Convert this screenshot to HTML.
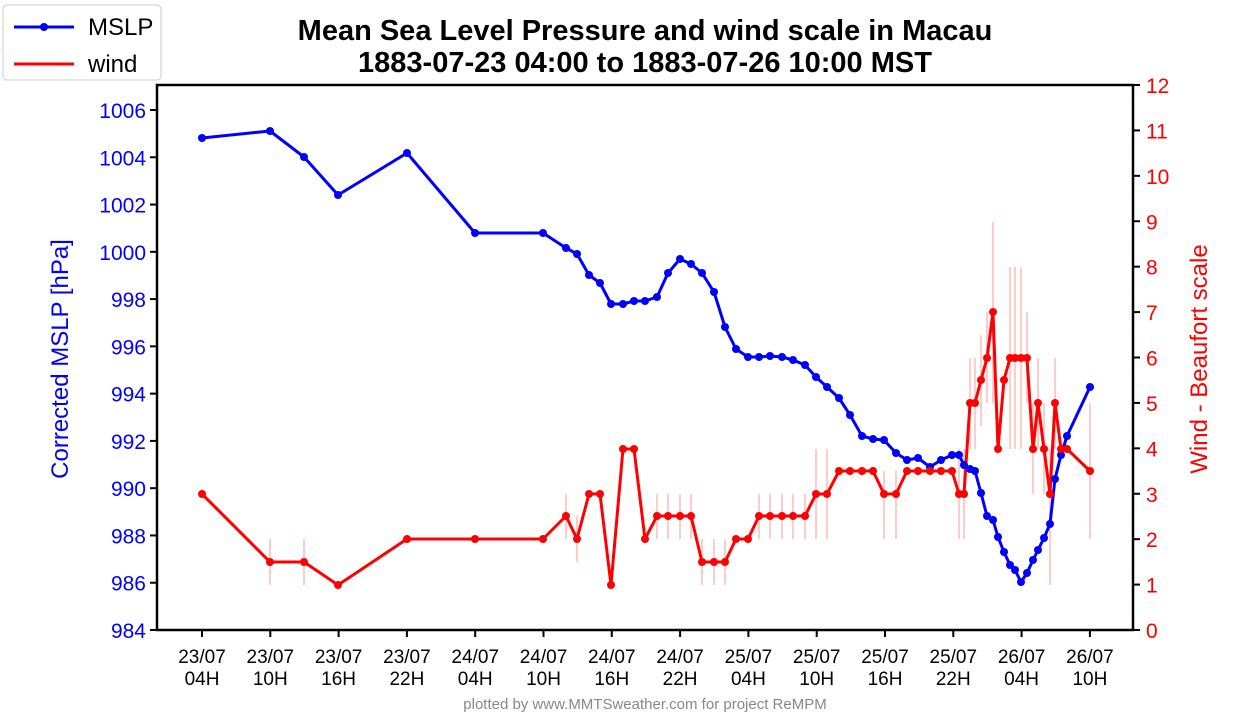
<!DOCTYPE html>
<html><head><meta charset="utf-8"><style>body{margin:0;background:#fff}svg{display:block}text{font-family:"Liberation Sans",sans-serif}</style></head><body>
<svg width="1260" height="720" viewBox="0 0 1260 720">
<g stroke="#ffcccc" stroke-width="2" id="eb">
<line x1="270" y1="539" x2="270" y2="585"/><line x1="304" y1="539" x2="304" y2="585"/>
<line x1="566" y1="494" x2="566" y2="539"/><line x1="577" y1="516" x2="577" y2="562"/>
<line x1="657" y1="494" x2="657" y2="539"/><line x1="668" y1="494" x2="668" y2="539"/><line x1="680" y1="494" x2="680" y2="539"/><line x1="691" y1="494" x2="691" y2="539"/>
<line x1="702" y1="539" x2="702" y2="585"/><line x1="714" y1="539" x2="714" y2="585"/><line x1="725" y1="539" x2="725" y2="585"/>
<line x1="759" y1="494" x2="759" y2="539"/><line x1="770" y1="494" x2="770" y2="539"/><line x1="782" y1="494" x2="782" y2="539"/><line x1="793" y1="494" x2="793" y2="539"/><line x1="805" y1="494" x2="805" y2="539"/>
<line x1="816" y1="449" x2="816" y2="539"/><line x1="827" y1="449" x2="827" y2="539"/>
<line x1="884" y1="471" x2="884" y2="539"/><line x1="896" y1="471" x2="896" y2="539"/>
<line x1="959" y1="449" x2="959" y2="539"/><line x1="964" y1="449" x2="964" y2="539"/>
<line x1="970" y1="358" x2="970" y2="449"/><line x1="975" y1="358" x2="975" y2="449"/><line x1="981" y1="335" x2="981" y2="426"/><line x1="987" y1="312" x2="987" y2="403"/><line x1="993" y1="222" x2="993" y2="403"/>
<line x1="1010" y1="267" x2="1010" y2="449"/><line x1="1015" y1="267" x2="1015" y2="449"/><line x1="1021" y1="267" x2="1021" y2="449"/><line x1="1027" y1="312" x2="1027" y2="403"/>
<line x1="1033" y1="403" x2="1033" y2="494"/><line x1="1038" y1="358" x2="1038" y2="449"/><line x1="1044" y1="403" x2="1044" y2="494"/><line x1="1050" y1="449" x2="1050" y2="585"/><line x1="1055" y1="358" x2="1055" y2="449"/>
<line x1="1090" y1="403" x2="1090" y2="539"/>
</g>
<g fill="none" stroke-width="3" stroke-linejoin="round">
<polyline id="mslp" stroke="#0000ff" points="202,138 270,131 304,157 338,195 407,153 475,233 543,233 566,248 577,254 589,275 600,283 611,304 623,304 634,301 645,301 657,297 668,273 680,259 691,264 702,273 714,292 725,327 736,349 748,357 759,357 770,356 782,357 793,360 805,365 816,377 827,387 839,398 850,415 862,436 873,439 884,440 896,453 907,460 918,458 930,467 941,460 952,455 959,455 964,465 970,469 975,471 981,493 987,516 993,520 998,537 1004,552 1010,565 1015,570 1021,582 1027,573 1033,560 1038,550 1044,538 1050,524 1055,479 1061,455 1067,436 1090,387"/>
<polyline id="wind" stroke="#ff0000" points="202,494 270,562 304,562 338,585 407,539 475,539 543,539 566,516 577,539 589,494 600,494 611,585 623,449 634,449 645,539 657,516 668,516 680,516 691,516 702,562 714,562 725,562 736,539 748,539 759,516 770,516 782,516 793,516 805,516 816,494 827,494 839,471 850,471 862,471 873,471 884,494 896,494 907,471 918,471 930,471 941,471 952,471 959,494 964,494 970,403 975,403 981,380 987,358 993,312 998,449 1004,380 1010,358 1015,358 1021,358 1027,358 1033,449 1038,403 1044,449 1050,494 1055,403 1061,449 1067,449 1090,471"/>
</g>
<g id="dots"></g>
<rect x="157" y="85" width="976" height="545" fill="none" stroke="#000" stroke-width="2.5"/>
<g id="ax" font-size="21"></g>
<text x="645" y="40" text-anchor="middle" font-size="29" font-weight="bold">Mean Sea Level Pressure and wind scale in Macau</text>
<text x="645" y="72" text-anchor="middle" font-size="29" font-weight="bold">1883-07-23 04:00 to 1883-07-26 10:00 MST</text>
<text transform="translate(68,359) rotate(-90)" text-anchor="middle" font-size="24" fill="#0000ff">Corrected MSLP [hPa]</text>
<text transform="translate(1207,359) rotate(-90)" text-anchor="middle" font-size="24" fill="#ff0000">Wind - Beaufort scale</text>
<text x="645" y="709" text-anchor="middle" font-size="15" fill="#888">plotted by www.MMTSweather.com for project ReMPM</text>
<rect x="3" y="5" width="158" height="75" rx="4" fill="#fff" stroke="#ccc"/>
<line x1="14" y1="27" x2="74" y2="27" stroke="#0000ff" stroke-width="3"/><circle cx="44" cy="27" r="4" fill="#0000ff"/>
<text x="88" y="35" font-size="24">MSLP</text>
<line x1="14" y1="64" x2="74" y2="64" stroke="#ff0000" stroke-width="3"/>
<text x="88" y="72" font-size="24">wind</text>
</svg>
<script>
const NS="http://www.w3.org/2000/svg";
const d=document.getElementById('dots'),ax=document.getElementById('ax');
function el(t,a,p){const e=document.createElementNS(NS,t);for(const k in a)e.setAttribute(k,a[k]);p.appendChild(e);return e;}
[['mslp','#0000ff'],['wind','#ff0000']].forEach(([id,c])=>{
document.getElementById(id).getAttribute('points').trim().split(/\s+/).forEach(p=>{const [x,y]=p.split(',');el('circle',{cx:x,cy:y,r:4,fill:c},d);});});
for(let i=0;i<=11;i++){const v=984+2*i,y=630-i*520/11;
el('line',{x1:150,x2:157,y1:y,y2:y,stroke:'#000','stroke-width':2},ax);
el('text',{x:146,y:y+8,'text-anchor':'end',fill:'#0000ff'},ax).textContent=v;}
for(let i=0;i<=12;i++){const y=630-i*545/12;
el('line',{x1:1133,x2:1140,y1:y,y2:y,stroke:'#000','stroke-width':2},ax);
el('text',{x:1146,y:y+8,fill:'#ff0000'},ax).textContent=i;}
const L=[['23/07','04H'],['23/07','10H'],['23/07','16H'],['23/07','22H'],['24/07','04H'],['24/07','10H'],['24/07','16H'],['24/07','22H'],['25/07','04H'],['25/07','10H'],['25/07','16H'],['25/07','22H'],['26/07','04H'],['26/07','10H']];
L.forEach((l,i)=>{const x=202+i*68.3;
el('line',{x1:x,x2:x,y1:630,y2:637,stroke:'#000','stroke-width':2},ax);
el('text',{x:x,y:663,'text-anchor':'middle','font-size':19},ax).textContent=l[0];
el('text',{x:x,y:685,'text-anchor':'middle','font-size':19},ax).textContent=l[1];});
</script>
</body></html>
